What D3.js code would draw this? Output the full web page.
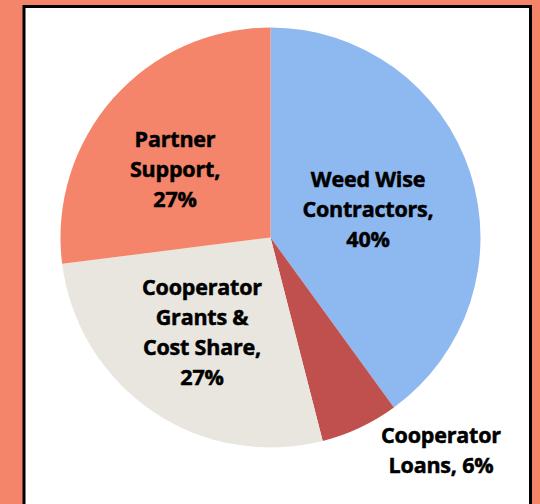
<!DOCTYPE html>
<html>
<head>
<meta charset="utf-8">
<script src="https://d3js.org/d3.v7.min.js"></script>
<style>
  body { margin: 0; background: #f4846a; }
  svg { display: block; }
</style>
</head>
<body>
<div id="chart"></div>
<script>
// chart data
var categories = ["Weed Wise Contractors", "Cooperator Loans", "Cooperator Grants & Cost Share", "Partner Support"];
var values = [40, 6, 27, 27];
var labelLines = [
    ["Weed Wise", "Contractors,", "40%"],
    ["Cooperator", "Loans, 6%"],
    ["Cooperator", "Grants &", "Cost Share,", "27%"],
    ["Partner", "Support,", "27%"]
];
var colors = ["#8eb8f0", "#c0504d", "#e8e6de", "#f4846a"];

// label anchor (center x, first baseline y) - layout only
var labelPos = [[368, 187], [441, 443], [202, 295], [175, 147]];

var width = 540,
    height = 504,
    cx = 270.5,
    cy = 237.5,
    radius = 210,
    lineH = 30;

var svg = d3.select("#chart")
    .append("svg")
    .attr("width", width)
    .attr("height", height);

svg.append("rect")
    .attr("width", width)
    .attr("height", height)
    .attr("fill", "#f4846a");

// white panel with black frame
svg.append("rect")
    .attr("x", 24)
    .attr("y", 6.5)
    .attr("width", 506.5)
    .attr("height", 520)
    .attr("fill", "#fff")
    .attr("stroke", "#000")
    .attr("stroke-width", 3);

var pie = d3.pie().sort(null).value(function(d) { return d; });
var arc = d3.arc().innerRadius(0).outerRadius(radius);

var g = svg.append("g")
    .attr("transform", "translate(" + cx + "," + cy + ")");

g.selectAll("path")
    .data(pie(values))
    .enter().append("path")
    .attr("d", arc)
    .attr("fill", function(d, i) { return colors[i]; });

var labels = svg.append("g")
    .attr("font-family", "'Open Sans', sans-serif")
    .attr("font-weight", "bold")
    .attr("font-size", 21.5)
    .attr("text-anchor", "middle")
    .attr("fill", "#000")
    .attr("stroke", "#000")
    .attr("stroke-width", 0.5);

labels.selectAll("text")
    .data(labelLines)
    .enter().append("text")
    .each(function(lines, i) {
        var t = d3.select(this);
        lines.forEach(function(line, j) {
            t.append("tspan")
                .attr("x", labelPos[i][0])
                .attr("y", labelPos[i][1] + j * lineH)
                .attr("letter-spacing", -0.2)
                .text(line);
        });
    });
</script>
</body>
</html>
